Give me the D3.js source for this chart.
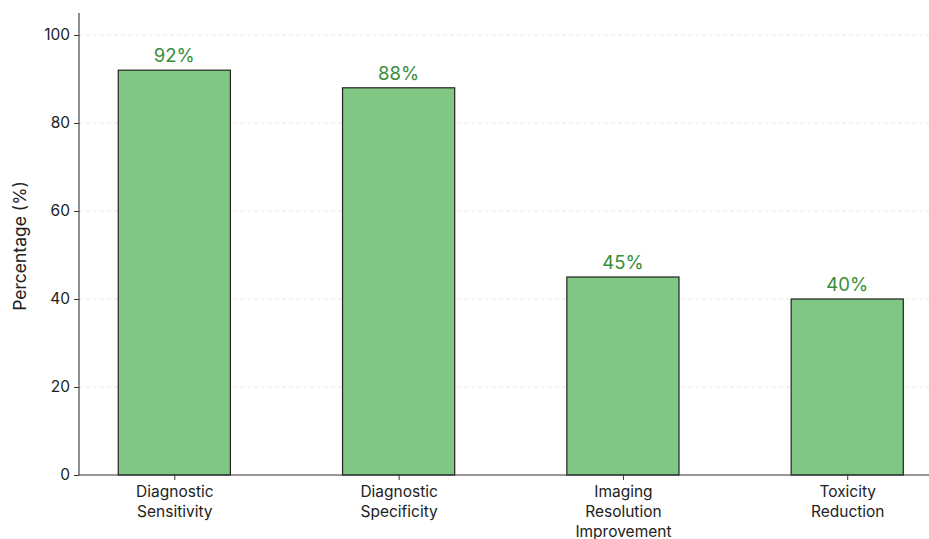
<!DOCTYPE html>
<html><head><meta charset="utf-8">
<script src="https://cdn.jsdelivr.net/npm/d3@7"></script>
<style>body{margin:0;background:#fff}svg{display:block}text{font-family:Inter,"Open Sans",sans-serif}</style>
</head><body>
<svg id="c" width="929" height="539"></svg>
<script>
const categories = [["Diagnostic","Sensitivity"],["Diagnostic","Specificity"],["Imaging","Resolution","Improvement"],["Toxicity","Reduction"]];
const values = [92, 88, 45, 40];
const yTicks = [0, 20, 40, 60, 80, 100];

(function() {
const svg = d3.select("#c");
const axisX = 79, plotBottom = 475, plotTop = 13;
const x = d3.scaleLinear().domain([-0.425, 3.42]).range([axisX, axisX + 3.845 * 224.3]);
const y = d3.scaleLinear().domain([0, 105]).range([plotBottom, plotTop]);
const bw = 0.5;

// grid
svg.append("g").selectAll("line").data(yTicks.filter(d => d > 0)).join("line")
  .attr("x1", axisX).attr("x2", 929).attr("y1", d => y(d)).attr("y2", d => y(d))
  .attr("stroke", "#e0e0e0").attr("stroke-width", 0.8).attr("stroke-dasharray", "4,3");

// bars
svg.append("g").selectAll("rect").data(values).join("rect")
  .attr("x", (d, i) => x(i - bw / 2)).attr("width", x(bw) - x(0))
  .attr("y", d => y(d)).attr("height", d => y(0) - y(d))
  .attr("fill", "#81c784").attr("stroke", "#222").attr("stroke-width", 1.2);

// value labels
svg.append("g").selectAll("text").data(values).join("text")
  .attr("x", (d, i) => x(i)).attr("y", d => y(d) - 8)
  .attr("text-anchor", "middle").attr("fill", "#388e3c").attr("font-size", 18.5)
  .text(d => d + "%");

// y axis
const ya = svg.append("g").attr("transform", `translate(${axisX},0)`)
  .call(d3.axisLeft(y).tickValues(yTicks).tickSize(5).tickPadding(4));
ya.select(".domain").attr("d", `M0,${plotTop}V${plotBottom}`).attr("stroke", "#333").attr("stroke-width", 1.1);
ya.selectAll(".tick line").attr("stroke", "#333");
ya.selectAll(".tick text").attr("font-size", 15.5).attr("fill", "#222").style("font-family", "Inter,'Open Sans',sans-serif");

// x axis
const xa = svg.append("g").attr("transform", `translate(0,${plotBottom})`)
  .call(d3.axisBottom(x).tickValues(d3.range(categories.length)).tickSize(5).tickFormat(""));
xa.select(".domain").attr("d", `M${axisX},0H929`).attr("stroke", "#333").attr("stroke-width", 1.1);
xa.selectAll(".tick line").attr("stroke", "#333");
xa.selectAll(".tick").each(function(d) {
  const t = d3.select(this).append("text").attr("fill", "#222").attr("font-size", 15.5)
    .attr("text-anchor", "middle").style("font-family", "Inter,'Open Sans',sans-serif");
  categories[d].forEach((line, j) => t.append("tspan").attr("x", 0).attr("y", 22 + j * 20).text(line));
});

// y label
svg.append("text").attr("transform", `translate(26,${(plotTop + plotBottom) / 2 + 2}) rotate(-90)`)
  .attr("text-anchor", "middle").attr("font-size", 17.5).attr("fill", "#222").text("Percentage (%)");
})();
</script>
</body></html>
